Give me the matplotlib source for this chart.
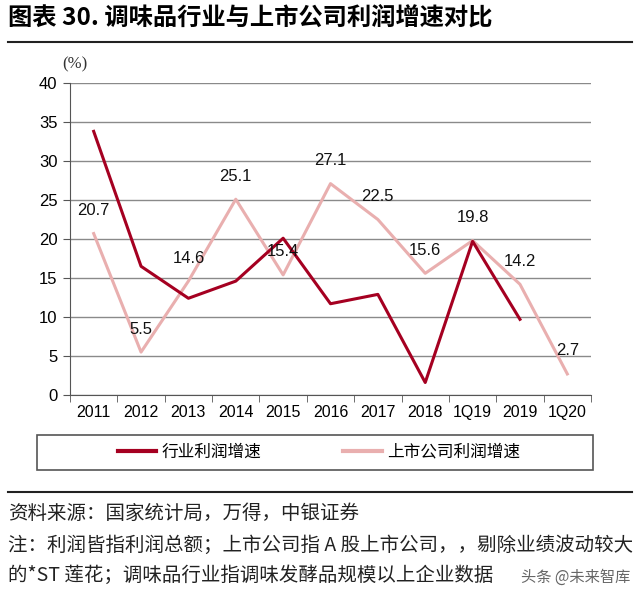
import matplotlib
matplotlib.use("Agg")
import matplotlib.pyplot as plt
from matplotlib.lines import Line2D
from matplotlib.patches import Rectangle

plt.rcParams['font.family'] = ['Liberation Sans Narrow', 'Liberation Sans', 'Noto Sans CJK SC', 'DejaVu Sans']

categories = ['2011', '2012', '2013', '2014', '2015', '2016', '2017', '2018', '1Q19', '2019', '1Q20']
industry = [33.8, 16.5, 12.4, 14.6, 20.1, 11.7, 12.9, 1.6, 19.7, 9.7, None]
listed = [20.7, 5.5, 14.6, 25.1, 15.4, 27.1, 22.5, 15.6, 19.8, 14.2, 2.7]
yticks = [0, 5, 10, 15, 20, 25, 30, 35, 40]

dark = '#A50021'
pink = '#E9AFAF'
cjk = ['Noto Sans CJK SC', 'DejaVu Sans']

fig = plt.figure(figsize=(6.4, 6.0), dpi=100)
ax = fig.add_axes([70 / 640, 1 - 395 / 600, 521 / 640, 312 / 600])

x = list(range(len(categories)))
xi = [i for i, v in zip(x, industry) if v is not None]
vi = [v for v in industry if v is not None]
ax.plot(xi, vi, color=dark, lw=2.2, zorder=3)
ax.plot(x, listed, color=pink, lw=2.2, zorder=2)

for i, v in zip(x, listed):
    ax.annotate(f'{v:.1f}', (i, v), xytext=(0, 23), textcoords='offset pixels',
                ha='center', va='center', fontsize=12, color='#111111')

ax.set_xlim(-0.5, len(categories) - 0.5)
ax.set_ylim(0, 40)
ax.set_yticks(yticks)
ax.set_yticklabels([str(t) for t in yticks], fontsize=12)
ax.set_xticks(x)
ax.set_xticklabels(categories, fontsize=11.5)
ax.set_xticks([i + 0.5 for i in range(-1, len(categories))], minor=True)
ax.tick_params(axis='x', which='major', length=0, pad=7)
ax.tick_params(axis='x', which='minor', length=5, direction='out', color='#555555')
ax.tick_params(axis='y', length=5, direction='out', color='#555555', pad=4)
ax.yaxis.grid(True, color='#8a8a8a', lw=1.0)
ax.set_axisbelow(True)
for s in ['top', 'right']:
    ax.spines[s].set_visible(False)
ax.spines['left'].set_color('#555555')
ax.spines['bottom'].set_color('#555555')

fig.text(62 / 640, 1 - 64 / 600, '(%)', fontsize=12, family=['Liberation Serif', 'DejaVu Serif'],
         ha='left', va='center', color='#333333')

# legend box
fig.add_artist(Rectangle((37 / 640, 1 - 470 / 600), 556 / 640, 35 / 600, transform=fig.transFigure,
                         fill=False, edgecolor='#555555', lw=1.2))
handles = [Line2D([], [], color=dark, lw=3), Line2D([], [], color=pink, lw=3)]
leg = fig.legend(handles, ['行业利润增速', '上市公司利润增速'], loc='center',
                 bbox_to_anchor=(319 / 640, 1 - 452 / 600), ncol=2, frameon=False,
                 prop={'family': cjk, 'size': 12}, handlelength=2.3, handletextpad=0.35,
                 columnspacing=4.9)

fig.text(8 / 640, 1 - 18 / 600, '图表 30. 调味品行业与上市公司利润增速对比', fontsize=17.5,
         fontweight='bold', family=cjk, ha='left', va='center')
fig.add_artist(Line2D([8 / 640, 632 / 640], [1 - 42 / 600, 1 - 42 / 600], color='#222222', lw=1.5))
fig.add_artist(Line2D([8 / 640, 632 / 640], [1 - 492 / 600, 1 - 492 / 600], color='#222222', lw=1.5))

notes = ['资料来源：国家统计局，万得，中银证券',
         '注：利润皆指利润总额；上市公司指 A 股上市公司，，剔除业绩波动较大',
         '的*ST 莲花；调味品行业指调味发酵品规模以上企业数据']
for t, yy in zip(notes, [513, 545, 575]):
    fig.text(8 / 640, 1 - yy / 600, t, fontsize=14, family=cjk, ha='left', va='center',
             color='#222222')

fig.text(630 / 640, 1 - 577 / 600, '头条 @未来智库', fontsize=11, family=cjk, ha='right',
         va='center', color='#666666')

fig.savefig('out.png', dpi=100)
